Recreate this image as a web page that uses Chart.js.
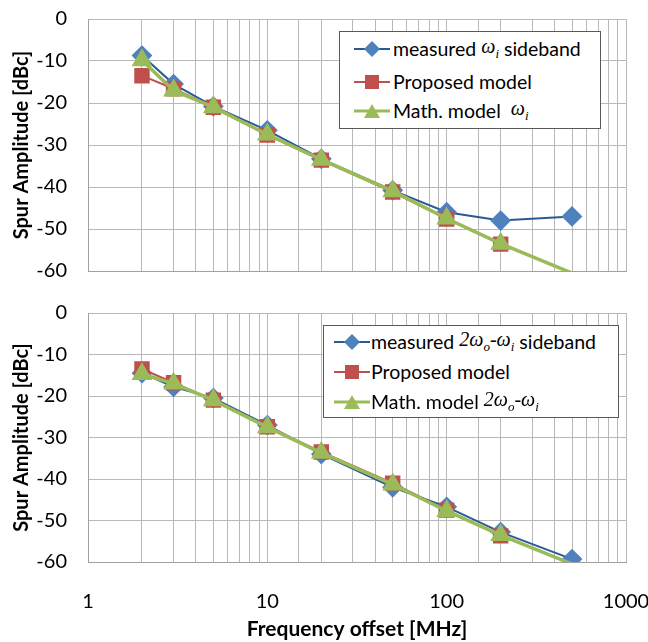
<!DOCTYPE html>
<html>
<head>
<meta charset="utf-8">
<script src="https://cdn.jsdelivr.net/npm/chart.js@4"></script>
<style>
  body { margin: 0; background: #fff; width: 648px; height: 642px; position: relative; overflow: hidden; font-family: Lato, sans-serif; }
  canvas { position: absolute; left: 0; }
  .legend { position: absolute; background: #fff; border: 1px solid #595959; font-size: 19.5px; color: #000; box-sizing: border-box; }
  .row { position: absolute; white-space: nowrap; height: 20px; line-height: 20px; }
  .row svg { position: absolute; top: 2px; }
  .row span.t { position: absolute; top: 0; }
  .w { font-family: "Liberation Serif", serif; font-style: italic; font-size: 20px; position: relative; top: -3px; }
  .w sub { font-size: 13px; }
</style>
</head>
<body>
<canvas id="graficoTopo" width="648" height="290" style="top:0"></canvas>
<canvas id="graficoBase" width="648" height="349" style="top:293px"></canvas>

<div class="legend" style="left:339px;top:31px;width:262px;height:98px">
  <div class="row" style="left:14px;top:7px"><svg width="36" height="16"><line x1="0" y1="8" x2="36" y2="8" stroke="#2a5a96" stroke-width="2"/><polygon points="18,0 26,8 18,16 10,8" fill="#4f81bd"/></svg><span class="t" style="left:39px">measured <span class="w">ω<sub>i</sub></span> sideband</span></div>
  <div class="row" style="left:14px;top:40px"><svg width="36" height="16"><line x1="0" y1="8" x2="36" y2="8" stroke="#c0504d" stroke-width="2"/><rect x="11" y="1" width="14" height="14" fill="#c0504d"/></svg><span class="t" style="left:39px">Proposed model</span></div>
  <div class="row" style="left:14px;top:69px"><svg width="36" height="16"><line x1="0" y1="8" x2="36" y2="8" stroke="#9bbb59" stroke-width="3"/><polygon points="18,1 26,15 10,15" fill="#9bbb59"/></svg><span class="t" style="left:39px">Math. model&nbsp; <span class="w">ω<sub>i</sub></span></span></div>
</div>

<div class="legend" style="left:323px;top:325px;width:296px;height:93px">
  <div class="row" style="left:10px;top:6px"><svg width="36" height="16"><line x1="0" y1="8" x2="36" y2="8" stroke="#2a5a96" stroke-width="2"/><polygon points="18,0 26,8 18,16 10,8" fill="#4f81bd"/></svg><span class="t" style="left:37px">measured <span class="w">2ω<sub>o</sub>-ω<sub>i</sub></span> sideband</span></div>
  <div class="row" style="left:10px;top:36px"><svg width="36" height="16"><line x1="0" y1="8" x2="36" y2="8" stroke="#c0504d" stroke-width="2"/><rect x="11" y="1" width="14" height="14" fill="#c0504d"/></svg><span class="t" style="left:37px">Proposed model</span></div>
  <div class="row" style="left:10px;top:66px"><svg width="36" height="16"><line x1="0" y1="8" x2="36" y2="8" stroke="#9bbb59" stroke-width="3"/><polygon points="18,1 26,15 10,15" fill="#9bbb59"/></svg><span class="t" style="left:37px">Math. model <span class="w">2ω<sub>o</sub>-ω<sub>i</sub></span></span></div>
</div>

<script>
// Frequências (MHz) e amplitudes (dBc)
const frequencias = [2, 3, 5, 10, 20, 50, 100, 200, 500];

// painel de cima: banda lateral ωi
const medidoTopo = [-8.7, -15.5, -20.8, -26.5, -33.3, -40.8, -46, -48, -47];
const propostoTopo = [-13.5, -16.6, -21, -27.6, -33.6, -41.2, -47.6, -53.6, null];
const matematicoTopo = [-9.8, -17, -21, -27.5, -33.5, -41, -47.5, -53.5, -60.5];

// painel de baixo: banda lateral 2ωo-ωi
const medidoBase = [-14.5, -17.8, -20.5, -27, -34, -42, -46.7, -52.8, -59.3];
const propostoBase = [-13.5, -16.8, -21, -27.4, -33.5, -41, -47.5, -53.7, null];
const matematicoBase = [-14.7, -17, -21, -27.5, -33.7, -41.3, -47.7, -53.5, -60.5];

// rótulos do eixo x e limites do eixo y
const rotulosX = [1, 10, 100, 1000];
const limitesY = [-60, 0];

const pontos = valores => frequencias.map((f, i) => ({ x: f, y: valores[i] }));

// marcador some quando o ponto cai fora do eixo (como no Excel)
const raio = r => ctx => (ctx.raw && ctx.raw.y < limitesY[0]) ? 0 : r;

function criarDatasets(medido, proposto, matematico) {
    return [
        {
            label: 'measured',
            data: pontos(medido),
            borderColor: '#2a5a96',
            backgroundColor: '#4f81bd',
            pointBackgroundColor: '#4f81bd',
            pointBorderColor: '#4f81bd',
            borderWidth: 2,
            pointStyle: 'rectRot',
            pointRadius: raio(9),
            order: 2
        },
        {
            label: 'Proposed model',
            data: pontos(proposto),
            borderColor: '#c0504d',
            backgroundColor: '#c0504d',
            borderWidth: 2,
            pointStyle: 'rect',
            pointRadius: raio(9.5),
            order: 1
        },
        {
            label: 'Math. model',
            data: pontos(matematico),
            borderColor: '#9bbb59',
            backgroundColor: '#9bbb59',
            borderWidth: 3.5,
            pointStyle: 'triangle',
            pointRadius: raio(8.5),
            order: 0
        }
    ];
}

function criarGrafico(id, datasets, mostrarX, padTop, padBottom) {
    const ctx = document.getElementById(id).getContext('2d');
    return new Chart(ctx, {
        type: 'line',
        data: { datasets: datasets },
        options: {
            responsive: false,
            animation: false,
            layout: { padding: { left: 0, right: 22, top: padTop, bottom: padBottom } },
            plugins: { legend: { display: false }, tooltip: { enabled: false } },
            elements: { line: { tension: 0 }, point: { borderWidth: 1 } },
            scales: {
                x: {
                    type: 'logarithmic',
                    min: rotulosX[0],
                    max: rotulosX[rotulosX.length - 1],
                    grid: { color: '#b8b8b8', lineWidth: 1, drawTicks: false },
                    border: { color: '#a0a0a0' },
                    ticks: {
                        display: mostrarX,
                        autoSkip: false,
                        maxRotation: 0,
                        padding: 28,
                        color: '#000',
                        font: { family: 'Lato', size: 20 },
                        callback: v => rotulosX.includes(v) ? String(v) : ''
                    },
                    title: {
                        display: mostrarX,
                        text: 'Frequency offset [MHz]',
                        color: '#000',
                        font: { family: 'Lato', size: 21, weight: 'bold' },
                        padding: { top: 0, bottom: 0 }
                    },
                    afterFit: s => {
                        s.height = mostrarX ? 80 : 0;
                        s.paddingLeft = 0;
                        s.paddingRight = 0;
                    }
                },
                y: {
                    min: limitesY[0],
                    max: limitesY[1],
                    grid: { color: '#b8b8b8', lineWidth: 1, drawTicks: false },
                    border: { color: '#a0a0a0' },
                    ticks: {
                        stepSize: 10,
                        padding: 21,
                        color: '#000',
                        font: { family: 'Lato', size: 20 }
                    },
                    title: {
                        display: true,
                        text: 'Spur Amplitude [dBc]',
                        color: '#000',
                        font: { family: 'Lato', size: 20, weight: 'bold' },
                        padding: { top: 10, bottom: 0 }
                    },
                    afterFit: s => {
                        s.width = 88;
                        s.paddingTop = 0;
                        s.paddingBottom = 0;
                    }
                }
            }
        }
    });
}

criarGrafico('graficoTopo', criarDatasets(medidoTopo, propostoTopo, matematicoTopo), false, 19, 19);
criarGrafico('graficoBase', criarDatasets(medidoBase, propostoBase, matematicoBase), true, 20, 0);
</script>
</body>
</html>
